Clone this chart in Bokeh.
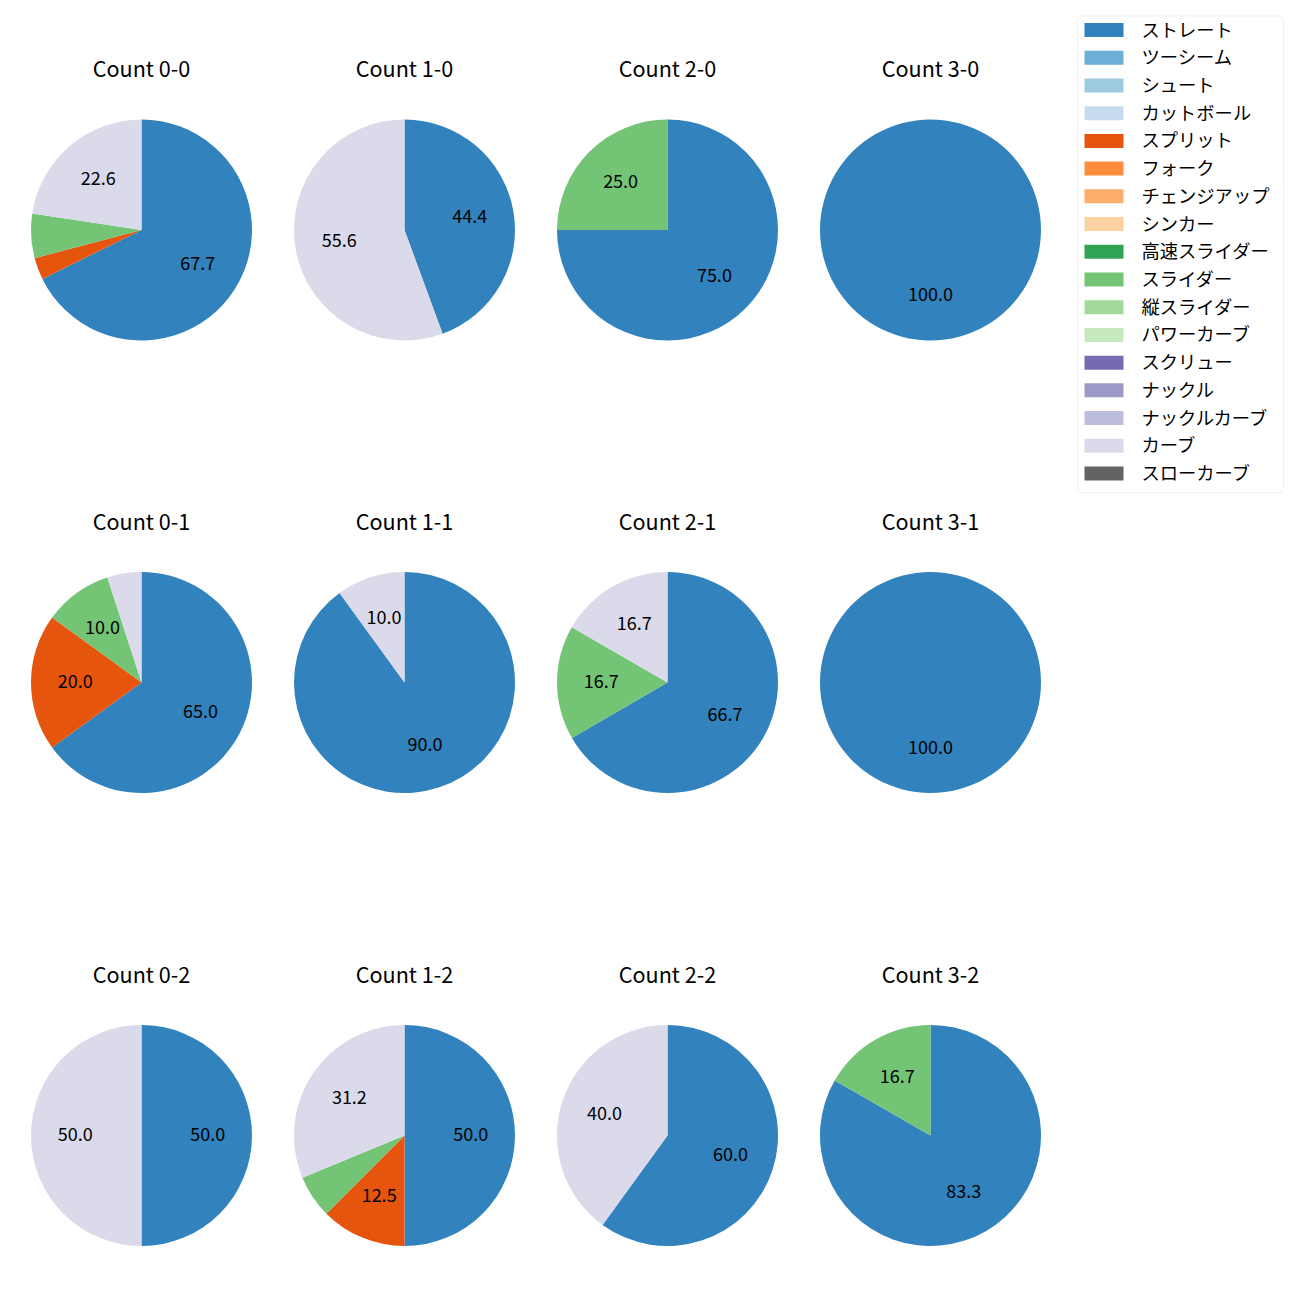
import math
from bokeh.plotting import figure
from bokeh.models import ColumnDataSource, Range1d, BoxAnnotation
from bokeh.embed import file_html
from bokeh.resources import INLINE
from bokeh.core.properties import value

# ---- data ----
pitch_types = ["ストレート", "ツーシーム", "シュート", "カットボール", "スプリット", "フォーク",
               "チェンジアップ", "シンカー", "高速スライダー", "スライダー", "縦スライダー",
               "パワーカーブ", "スクリュー", "ナックル", "ナックルカーブ", "カーブ", "スローカーブ"]
pitch_colors = ["#3182bd", "#6baed6", "#9ecae1", "#c6dbef", "#e6550d", "#fd8d3c",
                "#fdae6b", "#fdd0a2", "#31a354", "#74c476", "#a1d99b", "#c7e9c0",
                "#756bb1", "#9e9ac8", "#bcbddc", "#dadaeb", "#636363"]

counts = ["0-0", "1-0", "2-0", "3-0",
          "0-1", "1-1", "2-1", "3-1",
          "0-2", "1-2", "2-2", "3-2"]

# share (%) of each pitch type per count, in the order of `counts`
straight = [67.7, 44.4, 75.0, 100.0, 65.0, 90.0, 66.7, 100.0, 50.0, 50.0, 60.0, 83.3]
split    = [3.2,  0.0,  0.0,  0.0,   20.0, 0.0,  0.0,  0.0,   0.0,  12.5, 0.0,  0.0]
slider   = [6.5,  0.0,  25.0, 0.0,   10.0, 0.0,  16.7, 0.0,   0.0,  6.25, 0.0,  16.7]
curve    = [22.6, 55.6, 0.0,  0.0,   5.0,  10.0, 16.7, 0.0,   50.0, 31.25, 40.0, 0.0]

shares = {"ストレート": straight, "スプリット": split, "スライダー": slider, "カーブ": curve}

# ---- layout (reference pixel positions) ----
col_x = [141, 404, 667, 930]
row_y = [229.5, 682, 1135]
R = 110.5
FONT = "Noto Sans CJK JP"
SIZE = 1284

def fy(py):
    return SIZE - py

p = figure(width=SIZE, height=SIZE, x_range=Range1d(0, SIZE), y_range=Range1d(0, SIZE),
           output_backend="svg", toolbar_location=None, min_border=0,
           x_axis_location=None, y_axis_location=None)
p.grid.visible = False
p.outline_line_color = None
p.background_fill_color = "white"
p.border_fill_color = "white"

wx, wy, ws, we, wc = [], [], [], [], []
lx, ly, lt = [], [], []
tx, ty, tt = [], [], []
for k, cnt in enumerate(counts):
    cx = col_x[k % 4]
    cy = fy(row_y[k // 4])
    tx.append(cx); ty.append(fy(row_y[k // 4] - 160.5)); tt.append("Count " + cnt)
    total = sum(shares[n][k] for n in shares)
    cum = 0.0
    for name in pitch_types:
        if name not in shares:
            continue
        v = shares[name][k]
        if v <= 0:
            continue
        f0 = cum / total
        f1 = (cum + v) / total
        cum += v
        a_end = math.pi / 2 - 2 * math.pi * f0
        a_start = math.pi / 2 - 2 * math.pi * f1
        if a_end - a_start >= 2 * math.pi - 1e-6:
            a_start = a_end - (2 * math.pi - 1e-4)
        wx.append(cx); wy.append(cy); ws.append(a_start); we.append(a_end)
        wc.append(pitch_colors[pitch_types.index(name)])
        if v >= 8:
            mid = (a_start + a_end) / 2
            lx.append(cx + 0.6 * R * math.cos(mid))
            ly.append(cy + 0.6 * R * math.sin(mid))
            lt.append(f"{v:.1f}")

p.wedge(x="x", y="y", radius=R, start_angle="s", end_angle="e", fill_color="c",
        line_color=None, direction="anticlock",
        source=ColumnDataSource(dict(x=wx, y=wy, s=ws, e=we, c=wc)))

p.text(x="x", y="y", text="t", source=ColumnDataSource(dict(x=lx, y=ly, t=lt)),
       text_font=value(FONT), text_font_size="18px", text_align="center",
       text_baseline="middle", text_color="black", y_offset=-2)

p.text(x="x", y="y", text="t", source=ColumnDataSource(dict(x=tx, y=ty, t=tt)),
       text_font=value(FONT), text_font_size="21.6px", text_align="center",
       text_baseline="middle", text_color="black", y_offset=-2)

# ---- legend ----
frame = BoxAnnotation(left=1077, right=1283, top=fy(15.5), bottom=fy(492),
                      fill_color="white", fill_alpha=1.0, line_color="#cccccc",
                      line_width=1, border_radius=4, level="underlay")
p.add_layout(frame)

step = (473 - 29.5) / 16
ly_c = [fy(29.5 + i * step) for i in range(len(pitch_types))]
p.quad(left=1084, right=1123, top=[y + 7 for y in ly_c], bottom=[y - 7 for y in ly_c],
       fill_color=pitch_colors, line_color=None)
p.text(x=[1141] * len(pitch_types), y=ly_c, text=pitch_types,
       text_font=value(FONT), text_font_size="18.3px", text_align="left",
       text_baseline="middle", text_color="black", y_offset=-1.5)

open("out.html", "w").write(file_html(p, INLINE))
